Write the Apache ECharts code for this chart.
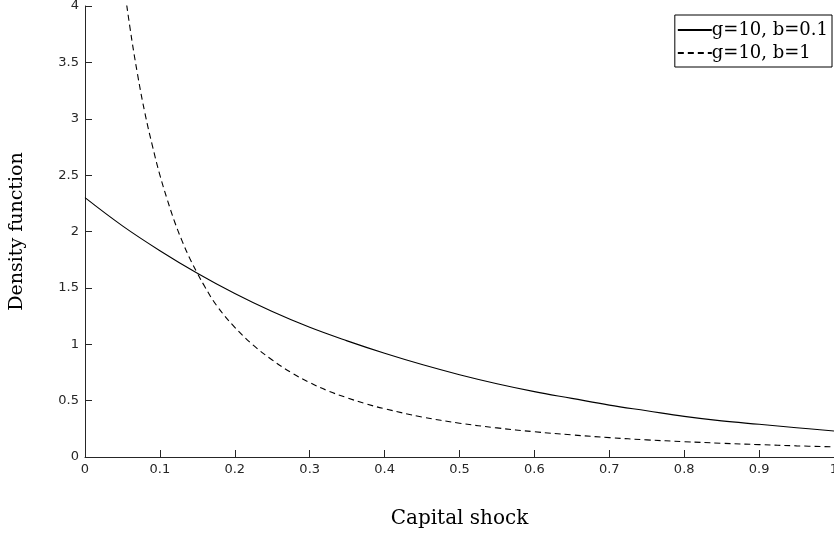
<!DOCTYPE html>
<html>
<head>
<meta charset="utf-8">
<script src="https://cdn.jsdelivr.net/npm/echarts@6/dist/echarts.min.js"></script>
<style>html,body{margin:0;padding:0;background:#fff;}#c{width:834px;height:539px;}</style>
</head>
<body>
<div id="c"></div>
<script>
var solidX = [0, 0.05, 0.1, 0.15, 0.2, 0.25, 0.3, 0.35, 0.4, 0.45, 0.5, 0.55, 0.6, 0.65, 0.7, 0.75, 0.8, 0.85, 0.9, 0.95, 1.0];
var solidY = [2.30, 2.05, 1.83, 1.63, 1.45, 1.29, 1.15, 1.03, 0.92, 0.82, 0.73, 0.65, 0.58, 0.52, 0.46, 0.41, 0.36, 0.32, 0.29, 0.26, 0.23];
var dashX = [0.04, 0.05, 0.06, 0.07, 0.08, 0.09, 0.1, 0.11, 0.12, 0.13, 0.14, 0.15, 0.16, 0.175, 0.2, 0.225, 0.25, 0.275, 0.3, 0.325, 0.35, 0.375, 0.4, 0.45, 0.5, 0.55, 0.6, 0.65, 0.7, 0.75, 0.8, 0.85, 0.9, 0.95, 1.0];
var dashY = [4.89, 4.30, 3.81, 3.40, 3.05, 2.76, 2.50, 2.28, 2.08, 1.91, 1.76, 1.63, 1.51, 1.35, 1.15, 0.99, 0.86, 0.75, 0.66, 0.585, 0.525, 0.472, 0.428, 0.355, 0.30, 0.258, 0.224, 0.196, 0.172, 0.152, 0.136, 0.122, 0.11, 0.099, 0.09];
var xTicks = { min: 0, max: 1, interval: 0.1 };
var yTicks = { min: 0, max: 4, interval: 0.5 };
var seriesNames = ['g=10, b=0.1', 'g=10, b=1'];

function pairs(xs, ys) { return xs.map(function (x, i) { return [x, ys[i]]; }); }

var chart = echarts.init(document.getElementById('c'), null, { renderer: 'canvas' });
var axisCol = '#262626';
var serif = 'DejaVu Serif, Liberation Serif, serif';
var sans = 'DejaVu Sans, Liberation Sans, Arial, sans-serif';
chart.setOption({
  animation: false,
  backgroundColor: '#fff',
  grid: { left: 85, right: 0, top: 6, bottom: 82, containLabel: false, outerBoundsMode: 'none' },
  legend: {
    orient: 'vertical', right: 2, top: 15,
    data: seriesNames,
    itemWidth: 34, itemHeight: 10, itemGap: 5,
    padding: [6, 4, 5, 2],
    borderColor: '#000', borderWidth: 1,
    backgroundColor: '#fff',
    itemStyle: { color: 'rgba(0,0,0,0)', borderWidth: 0 },
    textStyle: { fontFamily: serif, fontSize: 18, color: '#000', padding: [0, 0, 0, -5] }
  },
  xAxis: {
    type: 'value', min: xTicks.min, max: xTicks.max, interval: xTicks.interval,
    name: 'Capital shock', nameLocation: 'middle', nameGap: 52,
    nameTextStyle: { fontFamily: serif, fontSize: 20, color: '#000' },
    axisLine: { show: true, lineStyle: { color: axisCol, width: 1 } },
    axisTick: { show: true, inside: true, length: 7, lineStyle: { color: axisCol } },
    axisLabel: { color: axisCol, fontSize: 13, fontFamily: sans, margin: 6, showMaxLabel: true, showMinLabel: true },
    splitLine: { show: false }
  },
  yAxis: {
    type: 'value', min: yTicks.min, max: yTicks.max, interval: yTicks.interval,
    name: 'Density function', nameLocation: 'middle', nameGap: 58,
    nameTextStyle: { fontFamily: serif, fontSize: 19, color: '#000' },
    axisLine: { show: true, lineStyle: { color: axisCol, width: 1 } },
    axisTick: { show: true, inside: true, length: 7, lineStyle: { color: axisCol } },
    axisLabel: { color: axisCol, fontSize: 13, fontFamily: sans, margin: 6 },
    splitLine: { show: false }
  },
  series: [
    {
      name: seriesNames[0], type: 'line', data: pairs(solidX, solidY),
      smooth: 0.4, symbol: 'none', clip: true,
      lineStyle: { color: '#000', width: 1.1, type: 'solid' },
      itemStyle: { color: '#000' }
    },
    {
      name: seriesNames[1], type: 'line', data: pairs(dashX, dashY),
      smooth: 0.4, symbol: 'none', clip: true,
      lineStyle: { color: '#000', width: 1.1, type: [6, 4] },
      itemStyle: { color: '#000' }
    }
  ]
});
</script>
</body>
</html>
